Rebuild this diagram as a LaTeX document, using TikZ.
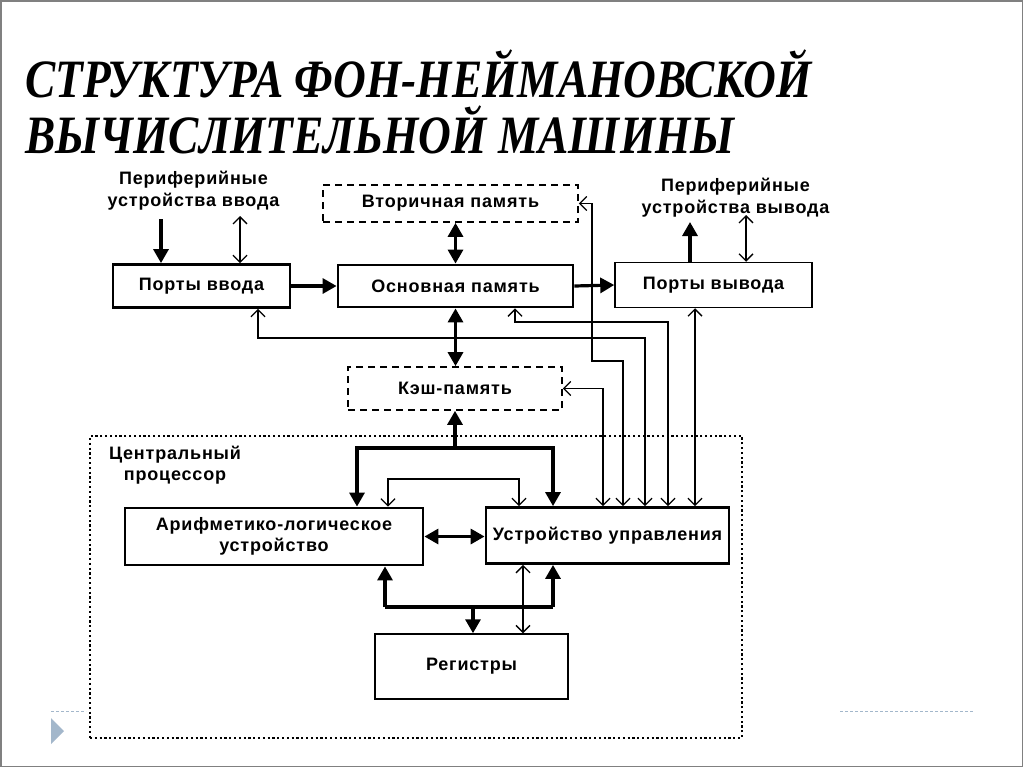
\documentclass[tikz,border=0pt]{standalone}
\usepackage{fontspec}
\usetikzlibrary{arrows.meta}
\newfontfamily\titlefont[FakeStretch=0.84]{Liberation Serif}
\newfontfamily\lblfont[LetterSpace=4.5]{Liberation Sans}
\newcommand\dlabel{\lblfont\bfseries\fontsize{18}{21.5}\selectfont}
\definecolor{slidegray}{HTML}{808080}
\definecolor{accent}{HTML}{A3B7CB}
\begin{document}
\begin{tikzpicture}[x=1pt,y=-1pt,
  box/.style={draw, line width=2.8pt, inner sep=0pt, font=\dlabel, align=center},
  thinbox/.style={draw, line width=1.5pt, inner sep=0pt, font=\dlabel, align=center},
  dbox/.style={draw, line width=1.7pt, dash pattern=on 7pt off 5pt, inner sep=0pt, font=\dlabel, align=center},
  cpuframe/.style={draw, line width=1.9pt, dash pattern=on 2.2pt off 2.6pt, inner sep=0pt},
  lbl/.style={font=\dlabel, align=center, inner sep=0pt},
  conn/.style={line width=3.2pt, -{Triangle[width=15pt,length=14pt]}},
  conntwo/.style={line width=3.2pt, {Triangle[width=15pt,length=14pt]}-{Triangle[width=15pt,length=14pt]}},
  busline/.style={line width=3.2pt},
  thinconn/.style={line width=1.3pt, {Straight Barb[width=14pt,length=7pt]}-{Straight Barb[width=14pt,length=7pt]}},
]
\useasboundingbox (0,0) rectangle (1024,768);
\draw[slidegray, line width=1.5pt] (1,1) rectangle (1022.5,766.5);

% title
\node[anchor=base west, inner sep=0pt, font=\titlefont\bfseries\itshape\fontsize{54}{56}\selectfont] (t1) at (25,97) {СТРУКТУРА ФОН-НЕЙМАНОВСКОЙ};
\node[anchor=base west, inner sep=0pt, font=\titlefont\bfseries\itshape\fontsize{54}{56}\selectfont] (t2) at (25,153) {ВЫЧИСЛИТЕЛЬНОЙ МАШИНЫ};

% slide decorations
\draw[accent, line width=1pt, dash pattern=on 3pt off 2pt] (51,711) -- (86,711);
\draw[accent, line width=1pt, dash pattern=on 3pt off 2pt] (840,711) -- (974,711);
\fill[accent] (51,718) -- (64,731) -- (51,744) -- cycle;

% CPU frame
\node[cpuframe, minimum width=652pt, minimum height=302pt] (cpu) at (416,587) {};
\node[lbl] (cpulbl) at (175,465) {Центральный\\процессор};

% labels
\node[lbl] (pin-lbl) at (193.5,190.5) {Периферийные\\устройства ввода};
\node[lbl] (pout-lbl) at (735.5,197.5) {Периферийные\\устройства вывода};

% boxes
\node[box, minimum width=177pt, minimum height=43pt] (pin) at (201.5,286) {Порты ввода};
\node[box, minimum width=235pt, minimum height=42pt] (mem) at (455.5,286) {Основная память};
\node[dbox, minimum width=255pt, minimum height=37pt] (sec) at (450.5,203.5) {Вторичная память};
\node[thinbox, minimum width=197pt, minimum height=45pt] (pout) at (713.5,285) {Порты вывода};
\node[dbox, minimum width=214pt, minimum height=43pt] (cache) at (455,388.5) {Кэш-память};
\node[box, minimum width=298pt, minimum height=57pt] (alu) at (274,536.5) {Арифметико-логическое\\устройство};
\node[box, minimum width=243pt, minimum height=56pt] (cu) at (607.5,535.5) {Устройство управления};
\node[thinbox, minimum width=193pt, minimum height=65pt] (reg) at (471.5,666.5) {Регистры};

% helper coordinates
\coordinate (inT) at (161,219);
\coordinate (inB) at (240,216);
\coordinate (outT) at (690,222);
\coordinate (outB) at (746,215);
\coordinate (r1) at (258,338);
\coordinate (c645) at (645,0);
\coordinate (r2) at (515,322);
\coordinate (c668) at (668,0);
\coordinate (r3) at (592,361);
\coordinate (c623) at (623,0);
\coordinate (c603) at (603,0);
\coordinate (c695) at (695,0);
\coordinate (bus1) at (455,448);
\coordinate (c357) at (357,0);
\coordinate (c553) at (553,0);
\coordinate (t2c) at (519,479);
\coordinate (c388) at (388,0);
\coordinate (lbL) at (385,607);
\coordinate (lbR) at (553,607);
\coordinate (lbJ) at (473,607);
\coordinate (c523) at (523,0);

% top connectors
\draw[conn] (inT) -- (inT |- pin.north);
\draw[thinconn] (inB) -- (inB |- pin.north);
\draw[conn] (pin.east) -- (mem.west);
\draw[conntwo] (mem.north) -- (mem.north |- sec.south);
\draw[conn] (mem.east) -- (pout.west);
\draw[conn] (outT |- pout.north) -- (outT);
\draw[thinconn] (outB) -- (outB |- pout.north);
\draw[conntwo] (mem.south) -- (mem.south |- cache.north);

% control routes to CU
\draw[thinconn] (r1 |- pin.south) -- (r1) -| (c645 |- cu.north);
\draw[thinconn] (r2 |- mem.south) -- (r2) -| (c668 |- cu.north);
\draw[thinconn] (sec.east) -| (r3) -| (c623 |- cu.north);
\draw[thinconn] (cache.east) -| (c603 |- cu.north);
\draw[thinconn] (c695 |- pout.south) -- (c695 |- cu.north);

% cache bus
\draw[conn] (bus1) -- (cache.south);
\draw[conn] (bus1) -| (c357 |- alu.north);
\draw[conn] (bus1) -| (c553 |- cu.north);
\draw[thinconn] (c388 |- alu.north) |- (t2c) -- (t2c |- cu.north);

% ALU <-> CU
\draw[conntwo] (alu.east) -- (alu.east -| cu.west);

% lower bus
\draw[busline] (lbL) -- (lbR);
\draw[conn] (lbL) -- (lbL |- alu.south);
\draw[conn] (lbR) -- (lbR |- cu.south);
\draw[conn] (lbJ) -- (lbJ |- reg.north);
\draw[thinconn] (c523 |- cu.south) -- (c523 |- reg.north);
\end{tikzpicture}
\end{document}
